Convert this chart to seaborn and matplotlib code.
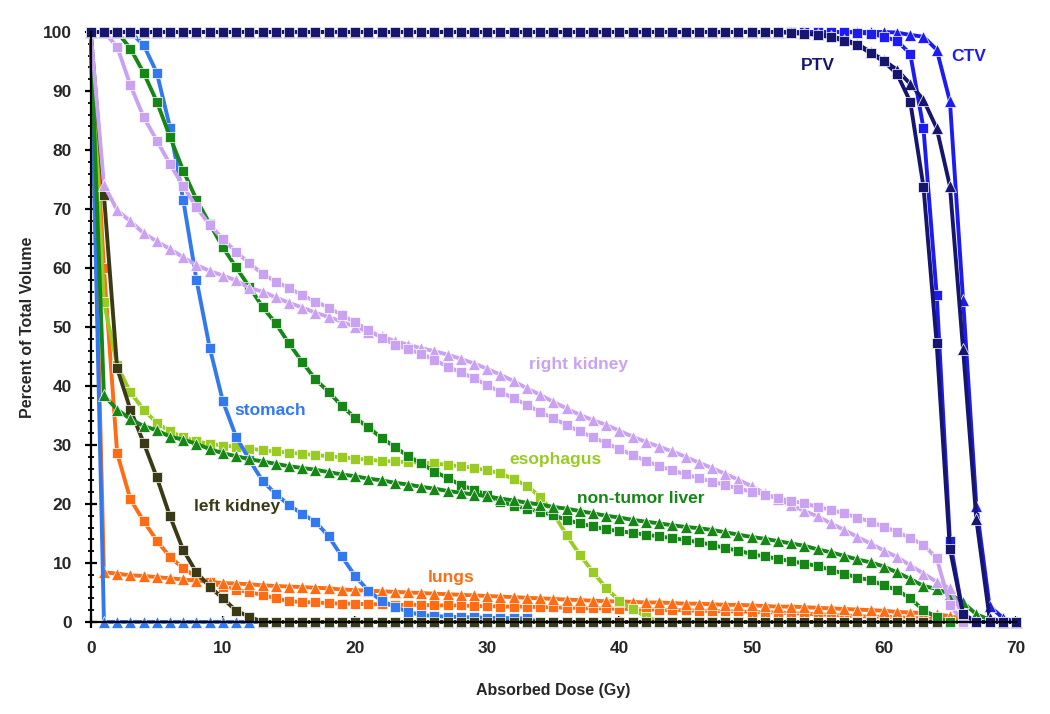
import matplotlib
matplotlib.use("Agg")
import matplotlib.pyplot as plt
import numpy as np
import pandas as pd
import seaborn as sns
from matplotlib.ticker import MultipleLocator

# dose axis, one point per Gy
dose = list(range(0, 71))

# squares = plan A, triangles = plan B (% volume)
ptv_sq = [100, 100, 100, 100, 100, 100, 100, 100, 100, 100,
          100, 100, 100, 100, 100, 100, 100, 100, 100, 100,
          100, 100, 100, 100, 100, 100, 100, 100, 100, 100,
          100, 100, 100, 100, 100, 100, 100, 100, 100, 100,
          100, 100, 100, 100, 100, 100, 100, 100, 100, 100,
          100, 100, 100, 99.8, 99.7, 99.5, 99.1, 98.5, 97.8, 96.4,
          95.0, 92.9, 88.2, 73.8, 47.2, 12.4, 1.3, 0, 0, 0,
          0]
ptv_tri = [100, 100, 100, 100, 100, 100, 100, 100, 100, 100,
           100, 100, 100, 100, 100, 100, 100, 100, 100, 100,
           100, 100, 100, 100, 100, 100, 100, 100, 100, 100,
           100, 100, 100, 100, 100, 100, 100, 100, 100, 100,
           100, 100, 100, 100, 100, 100, 100, 100, 100, 100,
           100, 100, 100, 100, 99.8, 99.6, 99.3, 98.7, 98.0, 96.6,
           95.2, 93.6, 91.2, 88.5, 83.7, 73.9, 46.2, 17.4, 0.7, 0,
           0]
ctv_sq = [100, 100, 100, 100, 100, 100, 100, 100, 100, 100,
          100, 100, 100, 100, 100, 100, 100, 100, 100, 100,
          100, 100, 100, 100, 100, 100, 100, 100, 100, 100,
          100, 100, 100, 100, 100, 100, 100, 100, 100, 100,
          100, 100, 100, 100, 100, 100, 100, 100, 100, 100,
          100, 100, 100, 100, 100, 100, 100, 100, 99.9, 99.7,
          99.2, 98.5, 96.3, 83.7, 55.5, 13.8, 1.3, 0, 0, 0,
          0]
ctv_tri = [100, 100, 100, 100, 100, 100, 100, 100, 100, 100,
           100, 100, 100, 100, 100, 100, 100, 100, 100, 100,
           100, 100, 100, 100, 100, 100, 100, 100, 100, 100,
           100, 100, 100, 100, 100, 100, 100, 100, 100, 100,
           100, 100, 100, 100, 100, 100, 100, 100, 100, 100,
           100, 100, 100, 100, 100, 100, 100, 100, 100, 100,
           100, 99.9, 99.5, 99.2, 97.0, 88.3, 54.5, 19.7, 2.7, 0.7,
           0]
stomach_sq = [100, 100, 100, 100, 97.8, 93.1, 83.8, 71.5, 58.0, 46.5,
              37.4, 31.4, 27.5, 23.9, 21.7, 19.8, 18.3, 17.0, 14.5, 11.1,
              7.8, 5.3, 3.6, 2.6, 1.7, 1.2, 1.0, 0.9, 0.8, 0.8,
              0.7, 0.7, 0.6, 0.6, 0, 0, 0, 0, 0, 0,
              0, 0, 0, 0, 0, 0, 0, 0, 0, 0,
              0, 0, 0, 0, 0, 0, 0, 0, 0, 0,
              0, 0, 0, 0, 0, 0, 0, 0, 0, 0,
              0]
stomach_tri = [100, 0, 0, 0, 0, 0, 0, 0, 0, 0,
               0, 0, 0, 0, 0, 0, 0, 0, 0, 0,
               0, 0, 0, 0, 0, 0, 0, 0, 0, 0,
               0, 0, 0, 0, 0, 0, 0, 0, 0, 0,
               0, 0, 0, 0, 0, 0, 0, 0, 0, 0,
               0, 0, 0, 0, 0, 0, 0, 0, 0, 0,
               0, 0, 0, 0, 0, 0, 0, 0, 0, 0,
               0]
rkidney_sq = [100, 100, 97.5, 91.0, 85.6, 81.6, 77.6, 73.9, 70.3, 67.3,
              64.9, 62.7, 60.8, 59.0, 57.7, 56.6, 55.4, 54.3, 53.3, 52.0,
              50.8, 49.5, 48.2, 47.0, 46.2, 45.5, 44.4, 43.3, 42.3, 41.3,
              40.1, 39.0, 37.9, 36.8, 35.6, 34.5, 33.4, 32.3, 31.3, 30.3,
              29.3, 28.3, 27.3, 26.4, 25.7, 25.0, 24.4, 23.8, 23.2, 22.6,
              22.1, 21.6, 21.0, 20.5, 20.1, 19.5, 19.0, 18.4, 17.7, 17.0,
              16.1, 15.3, 14.2, 13.1, 10.8, 2.9, 0, 0, 0, 0,
              0]
rkidney_tri = [100, 74.1, 69.8, 67.9, 65.9, 64.5, 63.2, 61.8, 60.5, 59.5,
               58.7, 57.9, 56.6, 56.0, 55.0, 54.1, 53.3, 52.4, 51.7, 50.9,
               50.0, 49.2, 48.4, 47.6, 47.0, 46.4, 45.9, 45.3, 44.6, 43.8,
               42.9, 41.9, 40.8, 39.6, 38.5, 37.3, 36.2, 35.1, 34.2, 33.4,
               32.4, 31.4, 30.5, 29.7, 28.9, 28.0, 27.0, 26.1, 25.1, 24.1,
               23.0, 21.8, 20.8, 19.8, 18.8, 17.9, 16.7, 15.6, 14.4, 13.3,
               12.1, 11.0, 9.6, 8.2, 6.8, 5.7, 1.0, 0, 0, 0,
               0]
liver_sq = [100, 100, 100, 97.2, 93.1, 88.2, 82.2, 76.5, 71.6, 67.5,
            63.5, 60.1, 56.8, 53.4, 50.6, 47.2, 44.1, 41.1, 39.0, 36.6,
            34.6, 33.0, 31.2, 29.7, 28.1, 26.9, 25.5, 24.4, 23.2, 22.4,
            21.5, 20.4, 19.7, 19.2, 18.7, 18.1, 17.3, 16.7, 16.2, 15.7,
            15.4, 15.1, 14.8, 14.5, 14.2, 13.9, 13.5, 13.1, 12.5, 12.1,
            11.5, 11.1, 10.7, 10.3, 9.9, 9.5, 8.8, 8.2, 7.5, 7.1,
            6.2, 5.4, 4.0, 2.0, 0.8, 0, 0, 0, 0, 0,
            0]
liver_tri = [100, 38.4, 36.0, 34.4, 33.2, 32.5, 31.4, 30.9, 30.2, 29.3,
             28.6, 28.1, 27.6, 27.2, 26.8, 26.4, 26.1, 25.8, 25.4, 25.0,
             24.7, 24.3, 24.0, 23.6, 23.3, 22.9, 22.6, 22.2, 21.9, 21.6,
             21.3, 20.9, 20.6, 20.2, 19.9, 19.5, 19.2, 18.8, 18.4, 18.0,
             17.7, 17.3, 17.0, 16.7, 16.4, 16.1, 15.9, 15.6, 15.2, 14.8,
             14.4, 14.1, 13.7, 13.3, 12.9, 12.3, 11.8, 11.2, 10.6, 10.1,
             9.4, 8.4, 7.3, 6.1, 5.6, 4.7, 3.3, 1.3, 0.4, 0,
             0]
esoph_sq = [100, 54.2, 43.5, 38.9, 36.0, 33.7, 32.3, 31.3, 30.6, 30.2,
            29.9, 29.7, 29.4, 29.1, 28.9, 28.7, 28.5, 28.3, 28.1, 27.9,
            27.7, 27.5, 27.3, 27.2, 27.1, 27.0, 26.9, 26.6, 26.4, 26.1,
            25.7, 25.2, 24.2, 23.1, 21.2, 18.5, 14.7, 11.4, 8.5, 5.7,
            3.6, 2.2, 0.9, 0, 0, 0, 0, 0, 0, 0,
            0, 0, 0, 0, 0, 0, 0, 0, 0, 0,
            0, 0, 0, 0, 0, 0, 0, 0, 0, 0,
            0]
lkidney_sq = [100, 72.4, 43.0, 36.0, 30.4, 24.5, 17.9, 12.2, 8.4, 6.0,
              4.0, 1.9, 0.9, 0, 0, 0, 0, 0, 0, 0,
              0, 0, 0, 0, 0, 0, 0, 0, 0, 0,
              0, 0, 0, 0, 0, 0, 0, 0, 0, 0,
              0, 0, 0, 0, 0, 0, 0, 0, 0, 0,
              0, 0, 0, 0, 0, 0, 0, 0, 0, 0,
              0, 0, 0, 0, 0, 0, 0, 0, 0, 0,
              0]
lungs_sq = [100, 60.0, 28.6, 20.8, 17.1, 13.8, 11.0, 9.1, 7.6, 6.7,
            6.0, 5.5, 5.0, 4.6, 4.0, 3.5, 3.4, 3.3, 3.2, 3.1,
            3.1, 3.0, 3.0, 2.9, 2.9, 2.9, 2.8, 2.8, 2.8, 2.7,
            2.7, 2.6, 2.6, 2.6, 2.5, 2.5, 2.4, 2.4, 2.3, 2.3,
            2.2, 2.2, 2.1, 2.1, 2.0, 2.0, 1.9, 1.9, 1.8, 1.8,
            1.7, 1.7, 1.6, 1.5, 1.4, 1.3, 1.2, 1.1, 1.0, 0.9,
            0.9, 0.8, 0.7, 0.6, 0.5, 0.3, 0.2, 0, 0, 0,
            0]
lungs_tri = [100, 8.4, 8.2, 7.9, 7.8, 7.6, 7.4, 7.2, 7.0, 6.8,
             6.6, 6.5, 6.4, 6.2, 6.1, 6.0, 5.9, 5.8, 5.7, 5.5,
             5.4, 5.3, 5.2, 5.1, 5.0, 4.9, 4.8, 4.7, 4.6, 4.5,
             4.4, 4.3, 4.2, 4.1, 4.0, 3.9, 3.8, 3.7, 3.6, 3.5,
             3.5, 3.4, 3.3, 3.3, 3.2, 3.1, 3.1, 3.0, 2.9, 2.9,
             2.8, 2.7, 2.6, 2.6, 2.5, 2.4, 2.3, 2.2, 2.1, 2.0,
             1.9, 1.7, 1.6, 1.5, 1.3, 1.0, 0.5, 0, 0, 0,
             0]

NAVY = "#16166e"
BLUE = "#1c1cf2"
STOMACH = "#3278ee"
LAVENDER = "#c9a2f2"
GREEN = "#168616"
YGREEN = "#9acb24"
OLIVE = "#3a3a17"
ORANGE = "#ff6c14"

# drawing order: bottom first
series = [
    (lungs_sq, ORANGE, "s"),
    (lungs_tri, ORANGE, "^"),
    (esoph_sq, YGREEN, "s"),
    (stomach_tri, STOMACH, "^"),
    (stomach_sq, STOMACH, "s"),
    (lkidney_sq, OLIVE, "s"),
    (liver_sq, GREEN, "s"),
    (liver_tri, GREEN, "^"),
    (rkidney_tri, LAVENDER, "^"),
    (rkidney_sq, LAVENDER, "s"),
    (ctv_tri, BLUE, "^"),
    (ctv_sq, BLUE, "s"),
    (ptv_tri, NAVY, "^"),
    (ptv_sq, NAVY, "s"),
]

sns.set_style("ticks")
plt.rcParams["font.family"] = ["Liberation Sans", "DejaVu Sans"]

fig = plt.figure(figsize=(10.5, 7.14), dpi=100)
ax = fig.add_axes([0.0864, 0.1289, 0.8812, 0.8263])

for vals, col, mk in series:
    df = pd.DataFrame({"dose": dose, "vol": vals})
    sns.lineplot(data=df, x="dose", y="vol", ax=ax, color=col, marker=mk,
                 markersize=8.5 if mk == "^" else 7.5, linewidth=2.8,
                 markeredgecolor="white", markeredgewidth=0.5,
                 clip_on=False)

ax.set_xlim(0, 70)
ax.set_ylim(0, 100)
ax.xaxis.set_major_locator(MultipleLocator(10))
ax.yaxis.set_major_locator(MultipleLocator(10))
ax.yaxis.set_minor_locator(MultipleLocator(2))
sns.despine(ax=ax)
for s in ["left", "bottom"]:
    ax.spines[s].set_linewidth(1.6)
    ax.spines[s].set_color("black")
ax.tick_params(axis="both", which="major", direction="inout", length=9,
               width=1.6, color="black", pad=9)
ax.tick_params(axis="y", which="minor", direction="inout", length=5,
               width=1.3, color="black")
tick_font = ["Liberation Sans Narrow", "Liberation Sans", "DejaVu Sans"]
for lab in ax.get_xticklabels() + ax.get_yticklabels():
    lab.set_family(tick_font)
    lab.set_fontweight("bold")
    lab.set_fontsize(12.5)

ax.set_xlabel("Absorbed Dose (Gy)", fontsize=11.5, fontweight="bold", labelpad=20)
ax.set_ylabel("Percent of Total Volume", fontsize=11.5, fontweight="bold", labelpad=6)

labels = [
    ("PTV", 55.0, 94.4, NAVY),
    ("CTV", 66.4, 95.8, BLUE),
    ("right kidney", 36.9, 43.6, LAVENDER),
    ("stomach", 13.6, 35.9, STOMACH),
    ("esophagus", 35.2, 27.5, YGREEN),
    ("non-tumor liver", 41.6, 21.0, GREEN),
    ("left kidney", 11.1, 19.5, OLIVE),
    ("lungs", 27.3, 7.6, ORANGE),
]
for txt, x, y, col in labels:
    ax.text(x, y, txt, color=col, fontsize=12.5, fontweight="bold",
            ha="center", va="center")

fig.savefig("out.png", dpi=100)
